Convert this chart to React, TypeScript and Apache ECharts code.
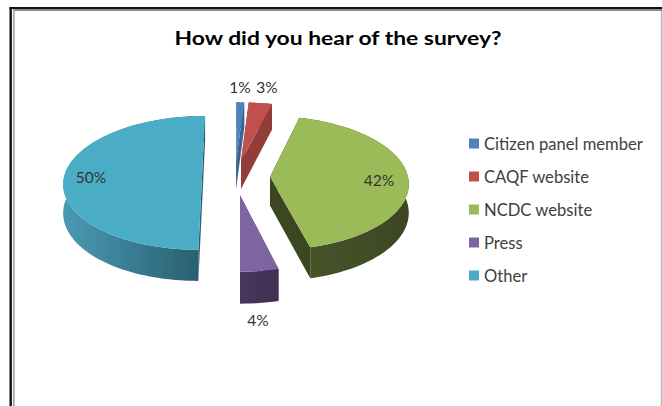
import React, { useEffect, useRef } from "react";
import * as echarts from "echarts";

const heading = "How did you hear of the survey?";
const categories = ["Citizen panel member", "CAQF website", "NCDC website", "Press", "Other"];
const shares = [1, 3, 42, 4, 50];
const topColors = ["#4F81BD", "#C0504D", "#9BBB59", "#8064A2", "#4BACC6"];
const wallLeft = ["#3C628F", "#923D3A", "#48552A", "#4A3760", "#4A9AB4"];
const wallRight = ["#3C628F", "#923D3A", "#3C4722", "#3F2F52", "#285D6D"];

// Exploded offset of each wedge on the pie's plane, in pixels (x right, y toward the viewer).
const explode = [[-4, -34], [1, -34], [30, 0], [0, 37], [-38, 0]];
// Percent label anchors.
const labelAt = [[240, 87], [267, 87], [379, 180], [258, 320], [91, 177]];

const CX = 240;
const CY = 177;
const R = 138;
const SQUASH = 0.481;
const PERSPECTIVE = 0.087;
const DEPTH = 28.5;

const total = shares.reduce((a, b) => a + b, 0);

function project(x: number, y: number, drop: number): number[] {
  const s = 1 / (1 - (PERSPECTIVE * y) / R);
  return [CX + x * s, CY + y * SQUASH * s + drop * DEPTH * s];
}

function renderWedge(index: number, value: number) {
  const before = shares.slice(0, index).reduce((a, b) => a + b, 0);
  const start = (before / total) * 2 * Math.PI;
  const sweep = (value / total) * 2 * Math.PI;
  const [ox, oy] = explode[index];
  const steps = Math.max(4, Math.ceil(value * 1.6));

  const rim: number[][] = [];
  for (let k = 0; k <= steps; k++) {
    const a = start + (sweep * k) / steps;
    rim.push([ox + R * Math.sin(a), oy - R * Math.cos(a)]);
  }
  const topRim = rim.map(([x, y]) => project(x, y, 0));
  const lowRim = rim.map(([x, y]) => project(x, y, 1));
  const tipTop = project(ox, oy, 0);
  const tipLow = project(ox, oy, 1);

  const xs = topRim.map((p) => p[0]);
  const shade = new echarts.graphic.LinearGradient(
    Math.min(...xs), 0, Math.max(...xs), 0,
    [{ offset: 0, color: wallLeft[index] }, { offset: 1, color: wallRight[index] }],
    true,
  );
  const flat = wallRight[index];

  const children: any[] = [
    // radial cut faces
    { type: "polygon", shape: { points: [tipTop, topRim[0], lowRim[0], tipLow] }, style: { fill: flat } },
    { type: "polygon", shape: { points: [tipTop, topRim[steps], lowRim[steps], tipLow] }, style: { fill: flat } },
    // curved outer wall
    { type: "polygon", shape: { points: [...topRim, ...lowRim.slice().reverse()] }, style: { fill: shade } },
    // top face
    { type: "polygon", shape: { points: [tipTop, ...topRim] }, style: { fill: topColors[index] } },
    {
      type: "text",
      x: labelAt[index][0],
      y: labelAt[index][1],
      style: {
        text: `${value}%`,
        fill: "#333333",
        font: "15.5px Lato",
        align: "center",
        verticalAlign: "middle",
      },
    },
  ];
  return { type: "group", children };
}

export default function App() {
  const ref = useRef<HTMLDivElement>(null);

  useEffect(() => {
    document.body.style.margin = "0";
    const chart = echarts.init(ref.current!, null, { renderer: "svg" });
    chart.setOption({
      animation: false,
      backgroundColor: "#ffffff",
      legend: {
        orient: "vertical",
        left: 469,
        top: 135,
        padding: 0,
        itemWidth: 10,
        itemHeight: 10,
        itemGap: 16,
        icon: "rect",
        selectedMode: false,
        data: categories.map((name) => ({ name })),
        textStyle: { fontFamily: "Lato", fontSize: 16.6, color: "#404040" },
      },
      graphic: [
        {
          type: "text",
          x: 338,
          y: 37,
          scaleX: 1.205,
          style: {
            text: heading,
            fill: "#000000",
            font: "bold 19px Lato",
            align: "center",
            verticalAlign: "middle",
          },
        },
        { type: "rect", shape: { x: 9.5, y: 7, width: 652.5, height: 2 }, style: { fill: "#111111" } },
        { type: "rect", shape: { x: 9.5, y: 7, width: 2.4, height: 399 }, style: { fill: "#111111" } },
        { type: "rect", shape: { x: 13, y: 9, width: 649, height: 2 }, style: { fill: "#8a8a8a" } },
        { type: "rect", shape: { x: 13, y: 9, width: 1.7, height: 397 }, style: { fill: "#a6a6a6" } },
        { type: "rect", shape: { x: 660.8, y: 11, width: 1, height: 395 }, style: { fill: "#aaaaaa" } },
      ],
      series: categories.map((name, i) => ({
        type: "custom",
        name,
        coordinateSystem: "none",
        itemStyle: { color: topColors[i] },
        data: [[shares[i]]],
        renderItem: (_p: any, api: any) => renderWedge(i, api.value(0)),
      })),
    });
    return () => chart.dispose();
  }, []);

  return <div ref={ref} style={{ width: 662, height: 406 }} />;
}
